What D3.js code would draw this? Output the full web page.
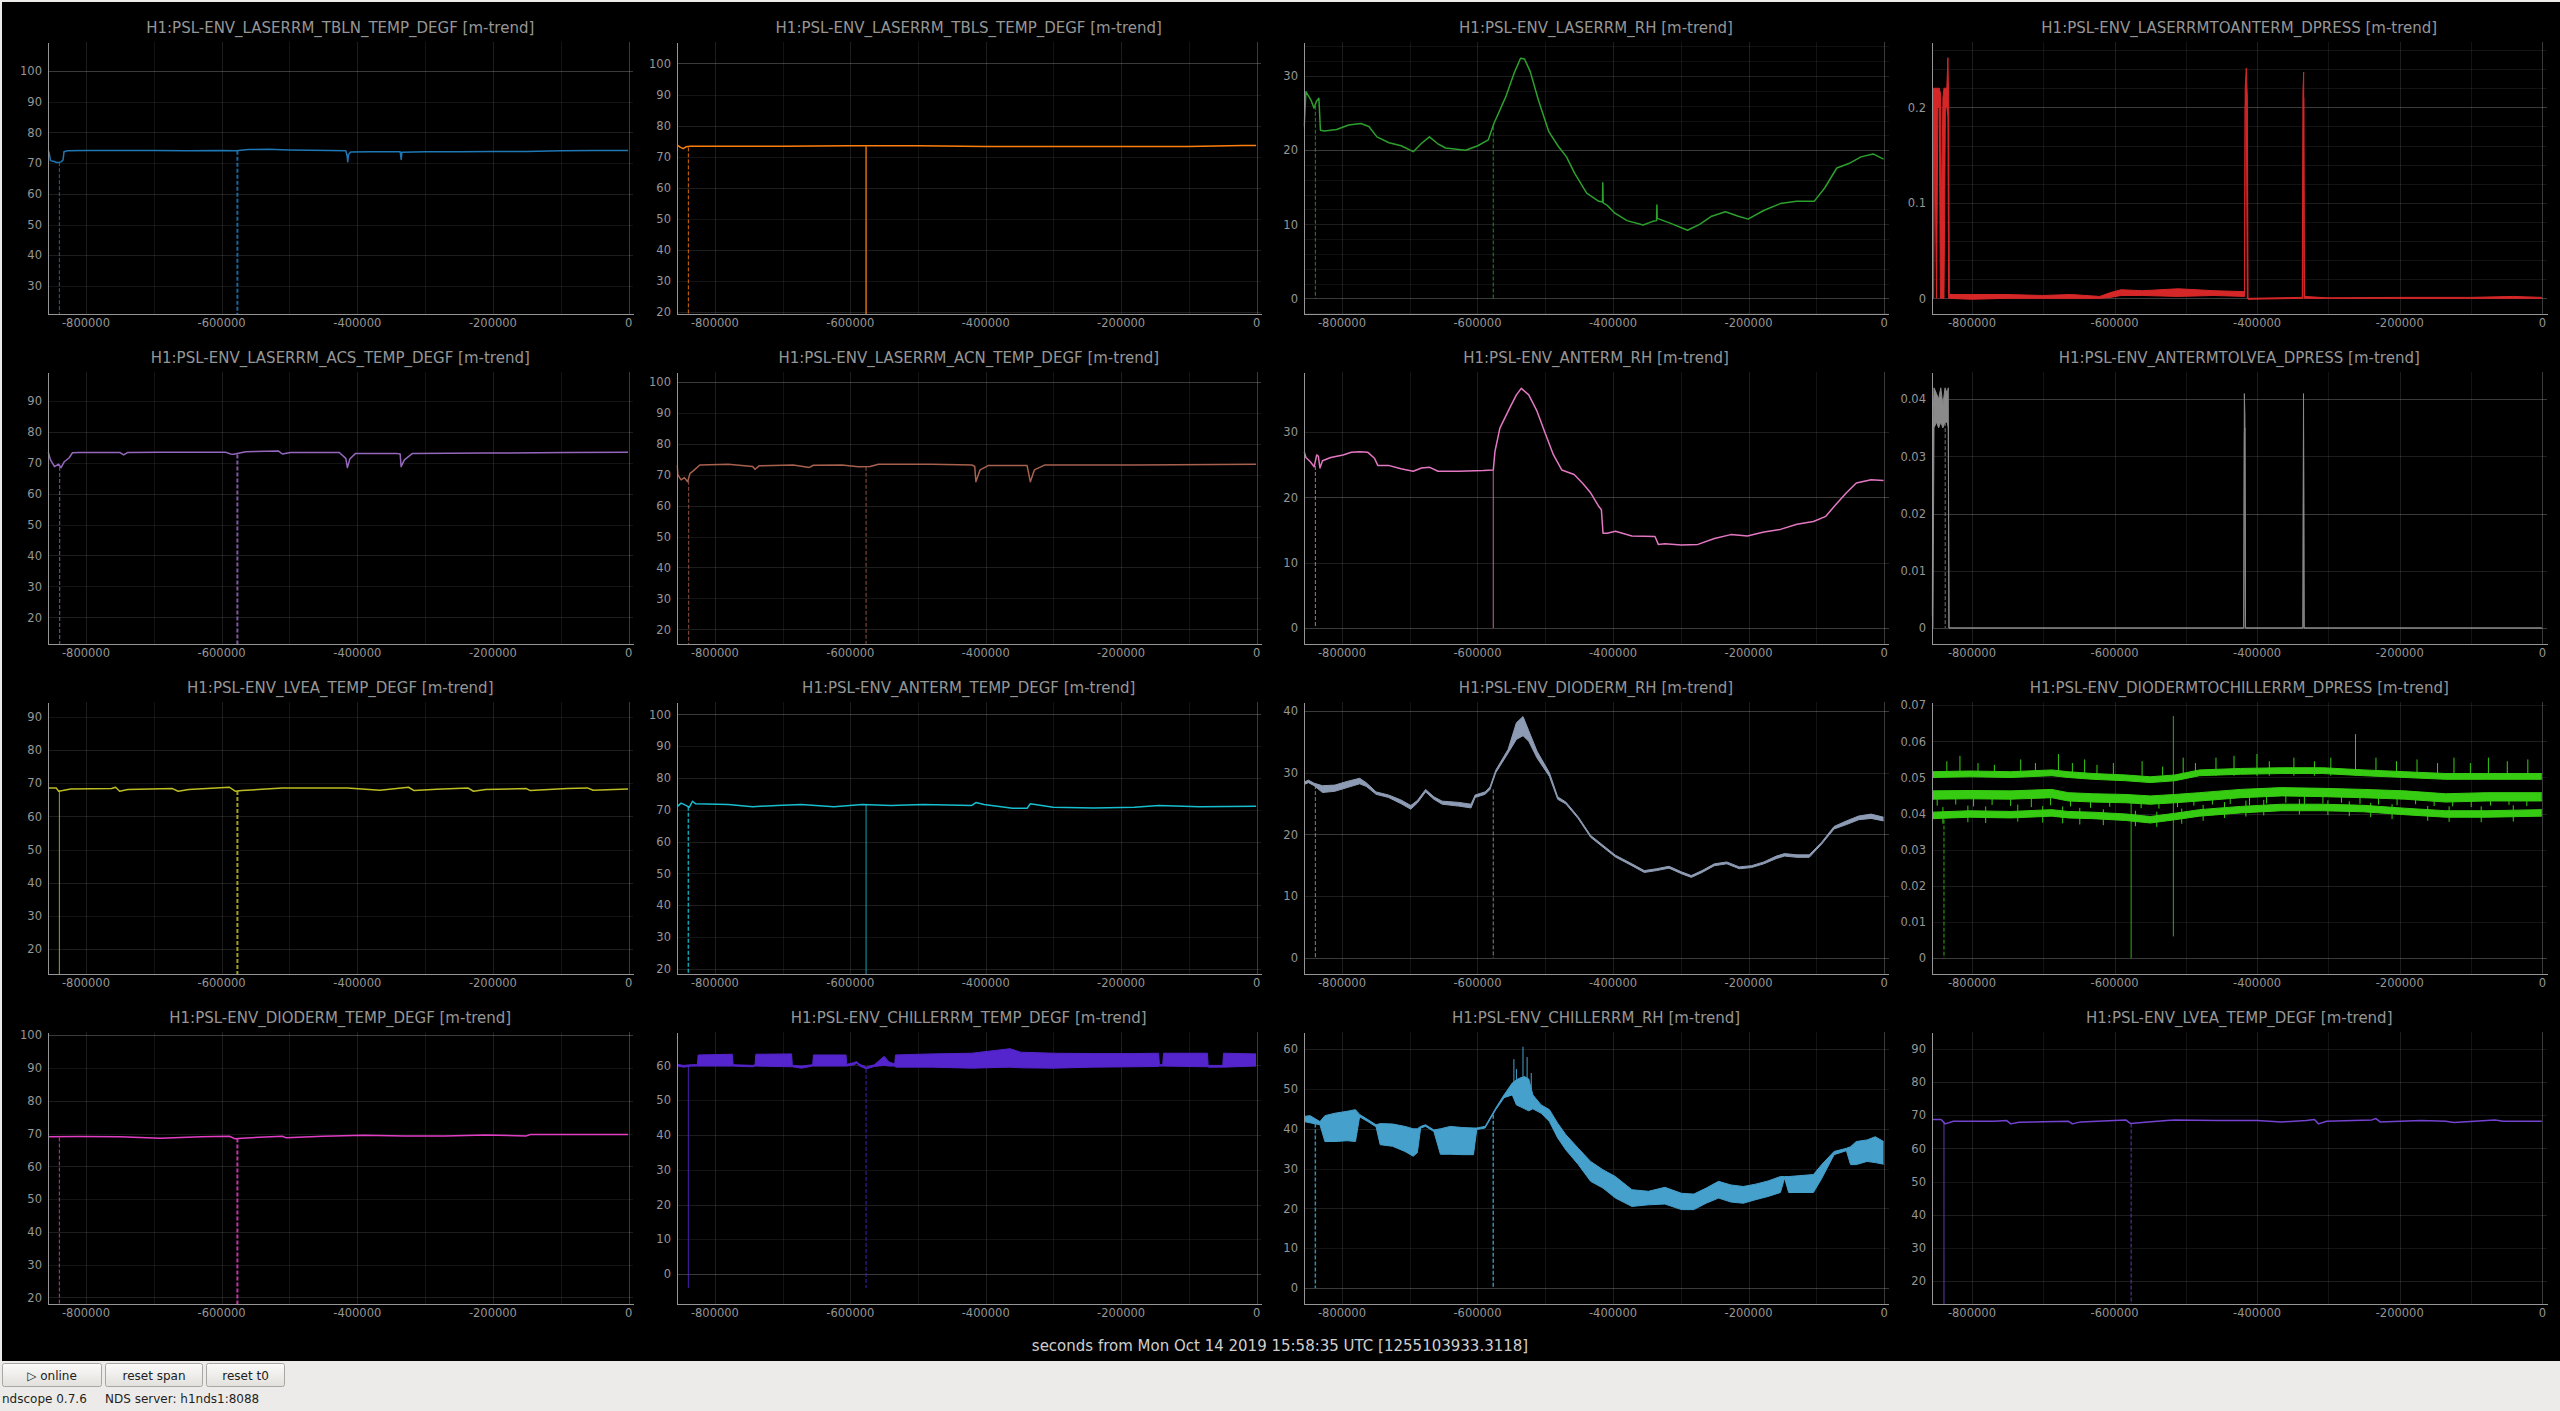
<!DOCTYPE html>
<html>
<head>
<meta charset="utf-8">
<script src="https://cdn.jsdelivr.net/npm/d3@7"></script>
<style>
html, body { margin: 0; padding: 0; background: #edebe9; overflow: hidden; }
svg { display: block; }
text { font-family: "DejaVu Sans", sans-serif; }
</style>
</head>
<body>
<svg id="chart" width="2560" height="1411"></svg>
<script>
// ---- data (seconds before t0, value) ----

// LASERRM_TBLN_TEMP_DEGF
var tblnT = [-855000,-853400,-851600,-846000,-842300,-838500,-836100,-833000,-831700,-826800,-800000,-750000,-700000,-650000,-600000,-578000,-560000,-530000,-500000,-470000,-440000,-416000,-414000,-413300,-412200,-409000,-380000,-350000,-336000,-334500,-333500,-300000,-250000,-200000,-150000,-100000,-50000,0];
var tblnV = [74.2,73.1,70.8,70.5,70.2,70.3,70.4,71.0,73.7,74.0,74.1,74.1,74.1,74.0,74.1,74.0,74.4,74.5,74.3,74.2,74.1,74.0,72.0,70.4,72.8,73.6,73.7,73.7,73.7,71.2,73.5,73.7,73.7,73.8,73.8,74.0,74.1,74.1];
var tblnDrops = [[-838500, 70.3, 0], [-576000, 74.0, 0]];

// LASERRM_TBLS_TEMP_DEGF
var tblsT = [-855000,-850000,-846000,-842000,-836000,-800000,-700000,-600000,-500000,-400000,-300000,-200000,-100000,-40000,-20000,0];
var tblsV = [73.7,73.0,72.6,73.2,73.4,73.4,73.4,73.5,73.5,73.3,73.3,73.3,73.3,73.5,73.6,73.6];
var tblsDrops = [[-838500, 73.0, 0], [-576000, 73.4, 0]];

// LASERRM_RH
var lrhT = [-855000,-852400,-845200,-840500,-836900,-833300,-831000,-825000,-807100,-789300,-771400,-759500,-747600,-729800,-711900,-694000,-682100,-670200,-658300,-646400,-616700,-598800,-583300,-575000,-557100,-545200,-535700,-529800,-521400,-509500,-494000,-479800,-467900,-456000,-438100,-420200,-414800,-414300,-413800,-408300,-396400,-378600,-354800,-340500,-335000,-334500,-334000,-330900,-313100,-289300,-271400,-253600,-233300,-214300,-200000,-176200,-152400,-128600,-102400,-86900,-69000,-51200,-33300,-15400,0];
var lrhV = [23.2,27.9,26.8,25.7,26.6,27.0,22.7,22.6,22.8,23.4,23.6,23.2,21.8,21.0,20.6,19.8,20.9,21.8,20.9,20.3,20.0,20.6,21.4,23.6,27.3,30.4,32.4,32.3,30.6,26.8,22.5,20.5,19.1,16.9,14.2,13.1,13.0,15.6,12.9,12.6,11.5,10.5,9.9,10.4,10.5,12.6,10.8,10.7,10.1,9.2,10.0,11.1,11.7,11.1,10.7,11.9,12.8,13.1,13.1,14.9,17.6,18.2,19.1,19.5,18.8];
var lrhDrops = [[-838500, 26.0, 0], [-576000, 23.2, 0]];

// LASERRMTOANTERM_DPRESS (min / max trend)
var l2aT = [-855000,-853000,-851500,-849000,-847000,-845000,-843500,-842000,-840000,-838500,-836500,-834500,-833000,-832000,-831000,-800000,-750000,-700000,-660000,-620000,-605000,-590000,-560000,-510000,-460000,-417000,-416000,-414500,-413000,-412000,-336000,-335000,-334000,-333000,-300000,-200000,-100000,-40000,0];
var l2aLo = [0,0,0.19,0,0.20,0.20,0,0,0,0,0.20,0.20,0.19,0,0,-0.001,0,0,0,0,0.001,0.003,0.003,0.002,0.003,0.002,0.20,0.21,0,-0.001,0,0,0.21,0,0,0,0,0,0];
var l2aHi = [0.215,0.22,0.22,0.22,0.22,0.22,0.215,0.09,0.21,0.22,0.22,0.22,0.252,0.21,0.004,0.004,0.004,0.003,0.004,0.002,0.006,0.009,0.008,0.010,0.008,0.007,0.22,0.241,0.21,0,0.001,0.215,0.237,0.002,0.0005,0.001,0.001,0.002,0.001];

// LASERRM_ACS_TEMP_DEGF
var acsT = [-855000,-851600,-845600,-839600,-836000,-831200,-824000,-819200,-809600,-749600,-743600,-737600,-689600,-593700,-586000,-581700,-563700,-515700,-509700,-497800,-425800,-416200,-413800,-410200,-401800,-341800,-336000,-334600,-329800,-317800,-209900,-89900,0];
var acsV = [73.5,70.9,68.7,69.5,68.4,70.3,71.6,73.2,73.3,73.3,72.5,73.3,73.4,73.4,72.8,72.7,73.5,73.8,72.8,73.3,73.3,71.4,68.4,71.2,73.0,73.0,72.8,68.7,70.9,73.0,73.1,73.3,73.4];
var acsDrops = [[-838000, 68.6, 0], [-576000, 72.6, 0]];

// LASERRM_ACN_TEMP_DEGF
var acnT = [-855000,-854000,-849200,-844400,-839600,-836000,-831200,-821600,-779600,-743600,-740000,-734000,-683700,-659700,-653700,-611700,-587700,-569700,-557700,-479800,-419800,-415500,-413800,-407700,-395700,-338200,-333400,-327400,-311800,-179900,0];
var acnV = [73.1,69.9,68.3,69.0,67.7,70.4,71.2,73.1,73.3,72.6,71.7,72.8,73.1,72.3,73.0,73.1,72.5,72.6,73.3,73.3,73.1,72.6,67.7,71.5,72.9,72.9,67.7,71.5,73.1,73.1,73.3];
var acnDrops = [[-838000, 68.0, 0], [-576000, 72.5, 0]];

// ANTERM_RH
var arhT = [-855000,-852400,-846300,-840200,-836500,-834100,-831700,-828000,-815800,-797600,-785400,-773200,-761000,-751300,-746400,-730600,-712300,-694100,-681900,-669700,-657500,-627100,-590600,-575900,-573500,-566200,-551600,-541800,-534600,-523600,-511400,-499200,-487100,-474900,-456600,-444400,-432300,-420100,-416400,-414000,-407900,-395700,-371400,-337300,-332400,-322700,-298300,-273900,-249600,-225300,-200900,-176600,-152200,-127800,-103500,-85200,-73000,-54800,-40200,-18300,0];
var arhV = [27.0,26.1,25.5,24.7,26.5,26.3,24.5,25.6,26.1,26.5,26.9,27.0,26.9,26.0,24.9,24.9,24.4,24.0,24.5,24.6,24.0,24.0,24.1,24.2,27.0,30.6,33.7,35.7,36.7,35.7,33.2,29.8,26.5,24.2,23.5,22.2,20.7,18.6,18.1,14.5,14.5,14.8,14.1,14.0,12.8,12.9,12.7,12.8,13.7,14.3,14.1,14.7,15.1,15.9,16.3,17.1,18.6,20.7,22.2,22.7,22.6];
var arhDrops = [[-838500, 24.8, 0], [-576000, 24.2, 0]];

// ANTERMTOLVEA_DPRESS (min / max trend)
var a2lT = [-855000,-854000,-852500,-849000,-846000,-843000,-840000,-837000,-834000,-832500,-831500,-418000,-417200,-416400,-415600,-335000,-334200,-333400,0];
var a2lLo = [0,0,0.035,0.036,0.035,0.036,0.035,0.036,0.036,0.035,0,0,0.034,0.035,0,0,0.035,0,0];
var a2lHi = [0.002,0.036,0.042,0.041,0.040,0.042,0.039,0.042,0.041,0.042,0,0,0.041,0.037,0,0,0.041,0,0];
var a2lDrops = [[-836800, 0.036, 0]];

// LVEA_TEMP_DEGF
var lveaT = [-855000,-843200,-839600,-833600,-821600,-761600,-755600,-749600,-737600,-671700,-663300,-647700,-587700,-579300,-569700,-521700,-509700,-413800,-365800,-323800,-315400,-281900,-236300,-227900,-209900,-149900,-143900,-89900,-59900,-51600,0];
var lveaV = [68.6,68.6,67.6,67.8,68.3,68.4,68.8,67.6,68.1,68.4,67.6,68.1,68.8,67.6,67.8,68.4,68.6,68.6,67.9,68.8,67.8,68.2,68.6,67.6,68.1,68.4,67.8,68.4,68.6,67.9,68.3];
var lveaDrops = [[-838500, 67.8, 0], [-576000, 67.7, 0]];

// ANTERM_TEMP_DEGF
var atempT = [-855000,-849200,-842000,-837200,-832400,-827600,-779600,-743600,-707600,-671700,-623700,-581700,-539700,-491700,-419800,-413800,-401800,-359800,-338200,-333400,-299800,-239800,-179900,-143900,-83900,0];
var atempV = [71.0,72.1,71.4,70.8,72.7,71.9,71.7,71.0,71.4,71.7,71.0,71.7,71.4,71.7,71.4,72.3,71.7,70.5,70.5,71.9,70.8,70.6,70.8,71.4,71.0,71.1];
var atempDrops = [[-838500, 71.0, 0], [-576000, 71.6, 0]];

// DIODERM_RH (min / max trend)
var drhT = [-855000,-848700,-840200,-828000,-809700,-791500,-773200,-763500,-748900,-730600,-712300,-697700,-688000,-675800,-663600,-651400,-627100,-608800,-602700,-588000,-580800,-572300,-554000,-541800,-532100,-523600,-511400,-493100,-480900,-468800,-450500,-432300,-414000,-395700,-371400,-353100,-334900,-316600,-298300,-283700,-267800,-249600,-231300,-213000,-194800,-176600,-158300,-146100,-127800,-109600,-91300,-73000,-54800,-36500,-18300,0];
var drhLo = [28.1,28.4,27.9,26.8,27.0,27.6,28.2,27.8,26.5,26.0,25.0,24.1,25.1,26.9,25.7,24.9,24.6,24.3,26.0,26.5,27.3,30.0,33.2,35.4,36.0,35.1,32.4,29.4,25.7,24.95,22.55,19.55,17.95,16.35,14.95,13.85,14.15,14.55,13.65,13.05,13.85,14.95,15.25,14.45,14.65,15.25,16.1,16.5,16.3,16.3,18.45,20.9,21.6,22.4,22.6,22.2];
var drhHi = [28.5,28.8,28.3,27.9,28.0,28.6,29.1,28.4,26.9,26.4,25.6,24.7,25.5,27.3,26.1,25.4,25.2,24.9,26.4,26.9,27.7,30.4,33.8,38.1,39.1,36.8,33.5,30.0,26.1,25.25,22.85,19.85,18.25,16.65,15.25,14.15,14.45,14.85,13.95,13.35,14.15,15.25,15.55,14.75,14.95,15.55,16.5,16.9,16.7,16.7,18.75,21.3,22.2,23.0,23.3,22.8];
var drhDrops = [[-838500, 28.0, 0], [-576000, 27.3, 0]];

// DIODERMTOCHILLERRM_DPRESS: max, mean and min trends, each a noisy band
var d2cT = [-855000,-802300,-744800,-687200,-664200,-629700,-583600,-549100,-514600,-480000,-422500,-364900,-307400,-249800,-192300,-134800,-77200,0];
var d2cTopLo = [0.0500,0.0502,0.0500,0.0505,0.0500,0.0495,0.0491,0.0486,0.0491,0.0505,0.0509,0.0511,0.0511,0.0505,0.0500,0.0495,0.0495,0.0495];
var d2cTopHi = [0.0516,0.0518,0.0516,0.0521,0.0516,0.0511,0.0507,0.0502,0.0507,0.0521,0.0525,0.0527,0.0527,0.0521,0.0516,0.0511,0.0511,0.0511];
var d2cMidLo = [0.0440,0.0441,0.0440,0.0444,0.0435,0.0432,0.0430,0.0426,0.0430,0.0435,0.0444,0.0449,0.0447,0.0444,0.0440,0.0432,0.0435,0.0435];
var d2cMidHi = [0.0463,0.0464,0.0463,0.0467,0.0458,0.0455,0.0453,0.0449,0.0453,0.0458,0.0467,0.0472,0.0470,0.0467,0.0463,0.0455,0.0458,0.0458];
var d2cBotLo = [0.0386,0.0390,0.0388,0.0393,0.0388,0.0386,0.0381,0.0374,0.0383,0.0393,0.0402,0.0408,0.0408,0.0405,0.0397,0.0390,0.0390,0.0393];
var d2cBotHi = [0.0404,0.0408,0.0406,0.0411,0.0406,0.0404,0.0399,0.0392,0.0401,0.0411,0.0420,0.0426,0.0426,0.0423,0.0415,0.0408,0.0408,0.0411];
// hair-line spikes out of the max band
var d2cSpikeT = [-834500,-816100,-790800,-767800,-730900,-710200,-678000,-658400,-641200,-623900,-600900,-560600,-531800,-503000,-485800,-457000,-431700,-399500,-382200,-347700,-318900,-295900,-261300,-232600,-203800,-175000,-146200,-123200,-100200,-74900,-48400,-19600];
var d2cSpikeV = [0.0545,0.0560,0.0540,0.0535,0.0550,0.0540,0.0565,0.0540,0.0550,0.0535,0.0540,0.0545,0.0530,0.0555,0.0540,0.0555,0.0560,0.0565,0.0545,0.0555,0.0545,0.0555,0.0620,0.0555,0.0545,0.0550,0.0540,0.0555,0.0540,0.0555,0.0545,0.0550];
var d2cSpikeBase = 0.0505;
// spikes down out of the mean band
var d2cMidSpikeT = [-848000,-822000,-797000,-771000,-745000,-716000,-689000,-661000,-633000,-606000,-562000,-537000,-511000,-488000,-462000,-437000,-410000,-386000,-359000,-333000,-307000,-281000,-255000,-229000,-203000,-177000,-151000,-125000,-99000,-72000,-46000,-21000];
var d2cMidSpikeV = [0.0422,0.0425,0.0420,0.0424,0.0421,0.0418,0.0423,0.0420,0.0416,0.0419,0.0415,0.0414,0.0418,0.0422,0.0425,0.0427,0.0423,0.0428,0.0430,0.0426,0.0428,0.0430,0.0427,0.0425,0.0423,0.0426,0.0421,0.0420,0.0418,0.0422,0.0424,0.0421];
var d2cMidSpikeBase = 0.0450;
// fuzz around the min band
var d2cBotSpikeT = [-840000,-805000,-780000,-735000,-700000,-672000,-648000,-615000,-570000,-540000,-505000,-475000,-445000,-415000,-390000,-340000,-300000,-270000,-240000,-210000,-160000,-130000,-85000,-40000];
var d2cBotSpikeLo = [0.0372,0.0376,0.0374,0.0378,0.0375,0.0373,0.0370,0.0368,0.0365,0.0363,0.0372,0.0380,0.0388,0.0392,0.0395,0.0398,0.0396,0.0393,0.0390,0.0385,0.0380,0.0377,0.0376,0.0378];
var d2cBotSpikeHi = [0.0418,0.0422,0.0420,0.0425,0.0421,0.0420,0.0416,0.0412,0.0408,0.0405,0.0414,0.0424,0.0432,0.0436,0.0438,0.0440,0.0437,0.0434,0.0430,0.0426,0.0421,0.0420,0.0420,0.0423];
var d2cDrops = [[-838500, 0.040, 0], [-576000, 0.045, 0], [-516800, 0.067, 0.006]];

// DIODERM_TEMP_DEGF
var dtempT = [-855000,-809600,-749600,-689600,-629700,-587700,-579300,-569700,-509700,-503800,-449800,-389800,-329800,-269900,-209900,-149900,-143900,-89900,0];
var dtempV = [69.0,69.1,69.0,68.6,69.0,69.2,68.4,68.6,69.2,68.7,69.2,69.5,69.3,69.3,69.6,69.3,69.7,69.7,69.7];
var dtempDrops = [[-838500, 68.8, 0], [-576000, 68.5, 0]];

// CHILLERRM_TEMP_DEGF (min / max trend)
var ctempT = [-855000,-845600,-833600,-825200,-824000,-773600,-772400,-743600,-740000,-738800,-686000,-684900,-671700,-654900,-653700,-605700,-604500,-593700,-590100,-585300,-575700,-563700,-549300,-542100,-533700,-532500,-479800,-419800,-363400,-347800,-299800,-239800,-179900,-143900,-142700,-137900,-136700,-71900,-70700,-49200,-48000,0];
var ctempLo = [59.8,59.5,59.8,59.8,59.8,59.8,59.8,59.6,59.8,59.8,59.6,59.6,59.2,59.8,59.8,59.8,59.8,60.2,60.6,59.8,59.0,59.7,60.0,59.8,59.8,59.5,59.5,59.2,59.5,59.3,59.2,59.5,59.6,59.7,59.8,59.8,59.8,59.6,59.5,59.5,59.5,59.8];
var ctempHi = [60.3,60.0,60.2,60.2,63.0,63.2,60.2,60.0,60.2,63.2,63.3,60.0,59.8,60.2,63.0,63.0,60.3,60.8,61.1,60.3,59.5,60.2,62.6,61.0,60.4,63.0,63.3,63.5,64.8,63.8,63.5,63.4,63.4,63.5,60.2,60.2,63.5,63.5,60.0,60.0,63.5,63.3];
var ctempDrops = [[-838500, 59.6, -4], [-576000, 59.0, -4]];

// CHILLERRM_RH (min / max trend)
var crhT = [-855000,-846300,-831700,-824400,-809700,-791500,-779300,-773200,-761000,-748900,-742800,-724500,-706200,-694100,-688000,-683100,-675800,-663600,-653900,-639300,-621000,-605200,-600300,-588000,-580800,-572300,-560100,-547900,-541800,-535800,-529700,-523600,-517500,-505300,-493100,-480900,-468800,-450500,-432300,-414000,-395700,-371400,-347000,-322700,-298300,-280000,-261800,-243500,-225300,-207000,-188700,-170400,-152200,-146100,-140000,-103500,-91300,-73000,-54800,-48700,-40200,-24300,-12200,0];
var crhHi = [43.1,43.3,41.8,43.3,43.9,44.4,44.8,43.6,42.3,41.0,41.3,41.2,40.6,40.0,40.0,40.6,41.0,39.7,40.0,40.6,40.3,40.2,40.2,40.6,42.7,45.2,48.5,51.5,52.3,52.8,53.1,52.5,48.5,46.0,44.8,41.4,38.5,35.1,31.8,29.7,28.0,24.7,24.3,25.3,23.8,23.6,25.1,26.8,25.9,25.5,26.1,26.9,28.0,28.0,28.0,28.5,31.0,34.3,35.1,35.5,36.8,37.2,38.0,36.8];
var crhLo = [41.8,41.5,41.0,36.8,36.8,37.0,36.8,43.0,41.8,40.5,36.0,35.6,34.3,33.1,34.0,40.2,40.6,39.3,33.6,33.6,33.5,33.5,39.8,40.2,42.3,44.8,47.8,48.5,46.0,45.5,45.0,44.5,45.0,43.9,41.8,37.7,34.7,31.0,26.8,25.1,22.6,20.5,20.9,21.1,19.7,19.7,21.3,22.6,21.6,21.3,22.2,23.0,24.0,27.6,24.0,24.0,27.5,33.5,34.5,31.0,31.0,31.8,31.5,31.1];
var crhSpikeT = [-545500, -541800, -532100, -526000, -519900];
var crhSpikeV = [57.5, 55.0, 60.6, 58.0, 54.0];
var crhSpikeBase = [51.0, 52.0, 52.9, 52.7, 50.0];
var crhDrops = [[-838500, 41.3, 0], [-576000, 43.5, 0]];

// LVEA_TEMP_DEGF (second copy)
var lvea2T = [-855000,-842600,-836800,-825300,-767800,-750500,-744800,-733200,-664200,-658400,-646900,-583600,-576700,-560600,-526100,-514600,-457000,-399500,-364900,-330400,-318900,-313100,-301600,-238300,-232600,-226800,-169300,-134800,-123300,-65700,-54200,0];
var lvea2V = [68.7,68.7,67.4,68.2,68.2,68.4,67.4,67.9,68.2,67.4,68.0,68.6,67.5,67.8,68.4,68.6,68.4,68.4,68.0,68.4,68.7,67.4,68.2,68.6,69.0,68.0,68.4,68.2,67.8,68.6,68.2,68.2];
var lvea2Drops = [[-838500, 68.0, 0], [-576000, 67.5, 0]];

var xTickStep = 200000;
var footerLabel = 'seconds from Mon Oct 14 2019 15:58:35 UTC [1255103933.3118]';

function constant(arr, v) { return arr.map(function() { return v; }); }

// ---- panels, in reading order ----
var D = '4,2';
var panels = [
  { title: 'H1:PSL-ENV_LASERRM_TBLN_TEMP_DEGF [m-trend]', color: '#1f77b4', t: tblnT, v: tblnV, drops: tblnDrops, dropStyle: [[D, 1], [D, 2]], yRange: [20.9, 109.4], yStep: 10 },
  { title: 'H1:PSL-ENV_LASERRM_TBLS_TEMP_DEGF [m-trend]', color: '#ff7f0e', t: tblsT, v: tblsV, drops: tblsDrops, dropStyle: [[D, 1], [null, 1.5]], yRange: [19.4, 106.9], yStep: 10 },
  { title: 'H1:PSL-ENV_LASERRM_RH [m-trend]', color: '#2ca02c', t: lrhT, v: lrhV, drops: lrhDrops, dropStyle: [[D, 1], [D, 1]], yRange: [-2.1, 34.6], yStep: 10 },
  { title: 'H1:PSL-ENV_LASERRMTOANTERM_DPRESS [m-trend]', color: '#d62728', t: l2aT, lo: l2aLo, hi: l2aHi, drops: [], dropStyle: [], yRange: [-0.0164, 0.2684], yStep: 0.1 },

  { title: 'H1:PSL-ENV_LASERRM_ACS_TEMP_DEGF [m-trend]', color: '#9467bd', t: acsT, v: acsV, drops: acsDrops, dropStyle: [[D, 1], [D, 2]], yRange: [11.4, 99.3], yStep: 10 },
  { title: 'H1:PSL-ENV_LASERRM_ACN_TEMP_DEGF [m-trend]', color: '#a8614f', t: acnT, v: acnV, drops: acnDrops, dropStyle: [[D, 1], [D, 1]], yRange: [15.3, 103.1], yStep: 10 },
  { title: 'H1:PSL-ENV_ANTERM_RH [m-trend]', color: '#e377c2', t: arhT, v: arhV, drops: arhDrops, dropStyle: [[D, 1], [null, 1]], yRange: [-2.45, 39.2], yStep: 10 },
  { title: 'H1:PSL-ENV_ANTERMTOLVEA_DPRESS [m-trend]', color: '#8a8a8a', t: a2lT, lo: a2lLo, hi: a2lHi, drops: a2lDrops, dropStyle: [[D, 1]], yRange: [-0.0028, 0.04477], yStep: 0.01 },

  { title: 'H1:PSL-ENV_LVEA_TEMP_DEGF [m-trend]', color: '#bcbd22', t: lveaT, v: lveaV, drops: lveaDrops, dropStyle: [[null, 1], [D, 2]], yRange: [12.5, 94.5], yStep: 10 },
  { title: 'H1:PSL-ENV_ANTERM_TEMP_DEGF [m-trend]', color: '#17becf', t: atempT, v: atempV, drops: atempDrops, dropStyle: [[D, 1.5], [null, 1]], yRange: [18.4, 103.9], yStep: 10 },
  { title: 'H1:PSL-ENV_DIODERM_RH [m-trend]', color: '#8d9cb4', t: drhT, lo: drhLo, hi: drhHi, drops: drhDrops, dropStyle: [[D, 1], [D, 1]], yRange: [-2.6, 41.46], yStep: 10 },
  { title: 'H1:PSL-ENV_DIODERMTOCHILLERRM_DPRESS [m-trend]', color: '#36cc12', t: d2cT,
    bands: [[d2cTopLo, d2cTopHi], [d2cMidLo, d2cMidHi], [d2cBotLo, d2cBotHi]],
    spikes: [[d2cSpikeT, constant(d2cSpikeT, d2cSpikeBase), d2cSpikeV],
             [d2cMidSpikeT, constant(d2cMidSpikeT, d2cMidSpikeBase), d2cMidSpikeV],
             [d2cBotSpikeT, d2cBotSpikeLo, d2cBotSpikeHi]],
    drops: d2cDrops, dropStyle: [[D, 1], [null, 1], [null, 1]], yRange: [-0.0044, 0.0709], yStep: 0.01 },

  { title: 'H1:PSL-ENV_DIODERM_TEMP_DEGF [m-trend]', color: '#e23ec6', t: dtempT, v: dtempV, drops: dtempDrops, dropStyle: [[D, 1], [D, 2]], yRange: [18, 101], yStep: 10 },
  { title: 'H1:PSL-ENV_CHILLERRM_TEMP_DEGF [m-trend]', color: '#5424cc', t: ctempT, lo: ctempLo, hi: ctempHi, drops: ctempDrops, dropStyle: [[null, 1], [D, 1]], yRange: [-8.6, 69.6], yStep: 10 },
  { title: 'H1:PSL-ENV_CHILLERRM_RH [m-trend]', color: '#45a0cc', t: crhT, lo: crhLo, hi: crhHi,
    spikes: [[crhSpikeT, crhSpikeBase, crhSpikeV]],
    drops: crhDrops, dropStyle: [[D, 1.5], [D, 1.5]], yRange: [-4, 64.3], yStep: 10 },
  { title: 'H1:PSL-ENV_LVEA_TEMP_DEGF [m-trend]', color: '#7442d0', t: lvea2T, v: lvea2V, drops: lvea2Drops, dropStyle: [[null, 1], [D, 1]], yRange: [13.1, 95.1], yStep: 10 }
];

// ---- layout ----
var colLeft = [47.5, 676.5, 1303.5, 1931.5];
var colWidth = [585.5, 584.5, 585, 615.5];
var rowTop = [42, 372, 702, 1032];
var plotH = 272;
var xDomain = [-856000, 7300];
var axisColor = 'rgb(150,150,150)';
var gridAlpha = 0.39;

var svg = d3.select('#chart');

svg.append('rect').attr('x', 2).attr('y', 2).attr('width', 2558).attr('height', 1359).attr('fill', '#000');

// pyqtgraph-like tick levels: [major, minor, (finer)]
function tickLevels(lo, hi, size) {
  var dif = hi - lo;
  var optSpacing = dif / Math.max(2, Math.log(size));
  var p10 = Math.pow(10, Math.floor(Math.log10(optSpacing)));
  var iv = [1, 2, 10, 20, 100].map(function(m) { return m * p10; });
  var mi = 0;
  while (iv[mi + 1] <= optSpacing) mi++;
  var levels = [iv[mi + 2], iv[mi + 1]];
  var minSpacing = Math.min(size / 20, 30);
  if (dif / iv[mi] <= size / minSpacing) levels.push(iv[mi]);
  return levels;
}

function multiples(lo, hi, step) {
  return d3.range(Math.ceil(lo / step - 1e-9), Math.floor(hi / step + 1e-9) + 1).map(function(k) { return +(k * step).toFixed(8); });
}

function drawGrid(g, scale, size, span, vertical) {
  var dom = scale.domain(), lo = Math.min(dom[0], dom[1]), hi = Math.max(dom[0], dom[1]);
  var seen = {};
  tickLevels(lo, hi, size).forEach(function(step, i) {
    var vals = multiples(lo, hi, step).filter(function(v) { return !seen[v]; });
    vals.forEach(function(v) { seen[v] = true; });
    var a = gridAlpha / (i + 1) * Math.max(0, Math.min(1, 0.05 * size / (vals.length + 1)));
    g.selectAll(null).data(vals).enter().append('line')
      .attr('x1', function(d) { return vertical ? Math.round(scale(d)) + 0.5 : 0; })
      .attr('x2', function(d) { return vertical ? Math.round(scale(d)) + 0.5 : span; })
      .attr('y1', function(d) { return vertical ? 0 : Math.round(scale(d)) + 0.5; })
      .attr('y2', function(d) { return vertical ? span : Math.round(scale(d)) + 0.5; })
      .attr('stroke', axisColor).attr('stroke-opacity', a).attr('stroke-width', 1)
      .attr('shape-rendering', 'crispEdges');
  });
}

function fmtTick(step) {
  var dec = Math.max(0, -Math.floor(Math.log10(step)));
  return function(d) { return String(parseFloat(d.toFixed(dec))); };
}

function drawBand(plot, x, y, t, lo, hi, color) {
  var pts = d3.zip(t, lo, hi);
  plot.append('path').datum(pts)
    .attr('d', d3.area().x(function(d) { return x(d[0]); }).y0(function(d) { return y(d[1]); }).y1(function(d) { return y(d[2]); }))
    .attr('fill', color);
  [1, 2].forEach(function(k) {
    plot.append('path').datum(pts)
      .attr('d', d3.line().x(function(d) { return x(d[0]); }).y(function(d) { return y(d[k]); }))
      .attr('fill', 'none').attr('stroke', color).attr('stroke-width', 1);
  });
}

function drawPanel(p, i) {
  var row = Math.floor(i / 4), col = i % 4;
  var w = colWidth[col], h = plotH;
  var g = svg.append('g').attr('transform', 'translate(' + colLeft[col] + ',' + rowTop[row] + ')');
  var x = d3.scaleLinear().domain(xDomain).range([0, w]);
  var y = d3.scaleLinear().domain(p.yRange).range([h, 0]);

  g.append('text').attr('x', w / 2).attr('y', -9.5).attr('text-anchor', 'middle')
    .attr('font-size', 15).attr('fill', axisColor).text(p.title);

  drawGrid(g, x, w, h, true);
  drawGrid(g, y, h, w, false);

  g.append('clipPath').attr('id', 'clip' + i).append('rect').attr('width', w).attr('height', h);
  var plot = g.append('g').attr('clip-path', 'url(#clip' + i + ')');

  // dropouts: trend minimum falling to zero
  p.drops.forEach(function(d, k) {
    var st = p.dropStyle[k];
    plot.append('line')
      .attr('x1', x(d[0])).attr('x2', x(d[0])).attr('y1', y(d[1])).attr('y2', y(d[2]))
      .attr('stroke', p.color).attr('stroke-width', st[1]).attr('stroke-opacity', 0.85)
      .attr('stroke-dasharray', st[0]);
  });

  if (p.bands) {
    p.bands.forEach(function(b) { drawBand(plot, x, y, p.t, b[0], b[1], p.color); });
  }
  if (p.lo) drawBand(plot, x, y, p.t, p.lo, p.hi, p.color);
  (p.spikes || []).forEach(function(s) {
    plot.selectAll(null).data(d3.zip(s[0], s[1], s[2])).enter().append('line')
      .attr('x1', function(d) { return x(d[0]); }).attr('x2', function(d) { return x(d[0]); })
      .attr('y1', function(d) { return y(d[1]); }).attr('y2', function(d) { return y(d[2]); })
      .attr('stroke', p.color).attr('stroke-width', 1);
  });
  if (p.v) {
    plot.append('path').datum(d3.zip(p.t, p.v))
      .attr('d', d3.line().x(function(d) { return x(d[0]); }).y(function(d) { return y(d[1]); }))
      .attr('fill', 'none').attr('stroke', p.color).attr('stroke-width', 1.5).attr('stroke-linejoin', 'round');
  }

  var yAxis = d3.axisLeft(y).tickValues(multiples(Math.min.apply(null, p.yRange), Math.max.apply(null, p.yRange), p.yStep))
    .tickSize(0).tickSizeOuter(0).tickPadding(5.5).tickFormat(fmtTick(p.yStep));
  var xAxis = d3.axisBottom(x).tickValues(multiples(xDomain[0], xDomain[1], xTickStep))
    .tickSize(0).tickSizeOuter(0).tickPadding(4.5).tickFormat(function(d) { return String(d); });

  var ya = g.append('g').call(yAxis);
  var xa = g.append('g').attr('transform', 'translate(0,' + h + ')').call(xAxis);
  [ya, xa].forEach(function(a) {
    a.attr('font-family', null).attr('font-size', null);
    a.select('.domain').attr('stroke', axisColor).attr('stroke-width', 1).attr('shape-rendering', 'crispEdges');
    a.selectAll('text').attr('fill', axisColor).attr('font-size', 11.5);
  });
}

panels.forEach(drawPanel);

svg.append('text').attr('x', 1280).attr('y', 1350.5).attr('text-anchor', 'middle')
  .attr('font-size', 15).attr('fill', '#cfcfcf').text(footerLabel);

// ---- bottom toolbar ----
var grad = svg.append('defs').append('linearGradient').attr('id', 'btn').attr('x1', 0).attr('x2', 0).attr('y1', 0).attr('y2', 1);
grad.append('stop').attr('offset', '0%').attr('stop-color', '#fbfbfa');
grad.append('stop').attr('offset', '100%').attr('stop-color', '#e2e0dc');

var buttons = [
  { label: '\u25B7 online', x: 2.5, w: 99 },
  { label: 'reset span', x: 105.5, w: 97 },
  { label: 'reset t0', x: 206.5, w: 78 }
];
var bg = svg.selectAll('g.btn').data(buttons).enter().append('g').attr('class', 'btn');
bg.append('rect').attr('x', function(d) { return d.x; }).attr('y', 1363.5).attr('width', function(d) { return d.w; }).attr('height', 23)
  .attr('rx', 2).attr('fill', 'url(#btn)').attr('stroke', '#a9a7a3');
bg.append('text').attr('x', function(d) { return d.x + d.w / 2; }).attr('y', 1379.5).attr('text-anchor', 'middle')
  .attr('font-size', 12).attr('fill', '#202020').text(function(d) { return d.label; });

svg.append('text').attr('x', 2).attr('y', 1403).attr('font-size', 12).attr('fill', '#1e1e1e').text('ndscope 0.7.6');
svg.append('text').attr('x', 105).attr('y', 1403).attr('font-size', 12).attr('fill', '#1e1e1e').text('NDS server: h1nds1:8088');
</script>
</body>
</html>
